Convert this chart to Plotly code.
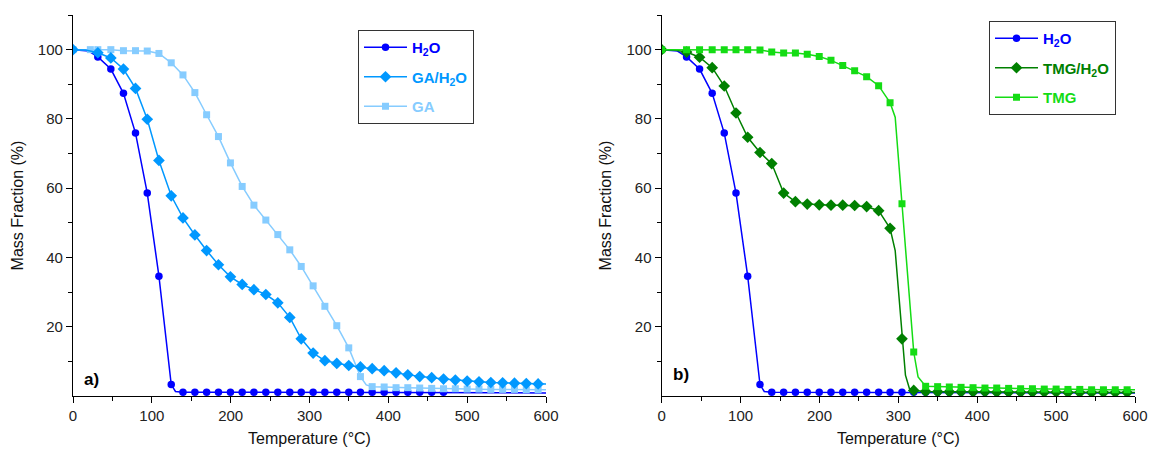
import plotly.graph_objects as go

FONT = "Liberation Sans, Arial, Helvetica, sans-serif"

# ---------------- data ----------------
TEMP = [0, 31.5, 48, 64, 79.3, 94.2, 109, 124.6, 139.5, 154.6, 169.5, 184.5, 199.7,
        214.6, 229.5, 244.6, 259.8, 275, 289.5, 304.6, 319.5, 334.6, 349.8, 364.6,
        379.5, 394.7, 409.8, 424.7, 439.8, 455, 470, 485, 500, 515, 530, 545, 560,
        575, 590]

# H2O (shown in both panels)
H2O_T = TEMP[:31]
H2O_Y = [100, 97.9, 94.4, 87.4, 75.9, 58.6, 34.6, 3.3, 1.1, 1.1, 1.1, 1.1, 1.1, 1.1,
         1.1, 1.1, 1.1, 1.1, 1.1, 1.1, 1.1, 1.1, 1.1, 1.1, 1.1, 1.1, 1.1, 1.1, 1.1,
         1.1, 1.1]
H2O_CURVE_T = [20, 130, 600]
H2O_CURVE_Y = [99.6, 1.3, 0.9]

# GA/H2O
GAH_T = TEMP
GAH_Y = [100, 99.1, 97.6, 94.4, 88.8, 79.9, 68.0, 57.8, 51.4, 46.5, 42.0, 37.9, 34.4,
         32.2, 30.7, 29.3, 26.9, 22.7, 16.5, 12.4, 10.2, 9.4, 8.8, 8.4, 7.9, 7.3, 6.7,
         6.1, 5.6, 5.3, 4.9, 4.6, 4.3, 4.1, 3.9, 3.8, 3.7, 3.6, 3.5]
GAH_CURVE_T = [16, 600]
GAH_CURVE_Y = [99.9, 3.5]

# GA
GA_T = [0, 22] + TEMP[1:]
GA_Y = [100, 100, 100, 100, 99.7, 99.7, 99.6, 98.9, 96.2, 92.7, 87.6, 81.2, 74.9, 67.3,
        60.5, 55.1, 50.8, 46.6, 42.2, 37.4, 31.8, 25.9, 20.3, 13.9, 5.6, 2.7, 2.6, 2.4,
        2.4, 2.3, 2.2, 2.1, 2.1, 2.0, 2.0, 1.9, 1.9, 1.9, 1.8, 1.8]
GA_CURVE_T = [372, 600]
GA_CURVE_Y = [3.2, 1.8]

# TMG/H2O
TMGH_T = TEMP
TMGH_Y = [100, 99.3, 97.8, 94.8, 89.5, 81.7, 74.7, 70.3, 67.1, 58.6, 56.1, 55.4, 55.2,
          55.1, 55.1, 55.0, 54.7, 53.5, 48.4, 16.5, 1.6, 1.3, 1.2, 1.2, 1.2, 1.2, 1.2,
          1.1, 1.1, 1.1, 1.1, 1.1, 1.1, 1.0, 1.0, 1.0, 1.0, 1.0, 1.0]
TMGH_CURVE_T = [16, 296, 309, 314, 600]
TMGH_CURVE_Y = [99.9, 42.0, 6.0, 2.2, 1.0]

# TMG
TMG_T = TEMP
TMG_Y = [100, 100, 100, 100, 100, 100, 100, 99.9, 99.3, 99.0, 99.0, 98.7, 98.0, 96.9,
         95.4, 93.9, 92.2, 89.6, 84.7, 55.5, 12.7, 2.8, 2.7, 2.6, 2.5, 2.4, 2.3, 2.3,
         2.2, 2.1, 2.1, 2.0, 2.0, 1.9, 1.9, 1.8, 1.8, 1.8, 1.8]
TMG_CURVE_T = [296, 300, 325, 600]
TMG_CURVE_Y = [80.5, 67.5, 5.5, 1.8]

X_TICKS = [0, 100, 200, 300, 400, 500, 600]
Y_TICKS = [20, 40, 60, 80, 100]
X_LABEL = "Temperature (°C)"
Y_LABEL = "Mass Fraction (%)"

# ---------------- styling ----------------
C_H2O = "#0000FF"
C_GAH = "#0098FF"
C_GA = "#86CCFF"
C_TMGH = "#008000"
C_TMG = "#14DC14"


def merged(t, y, et, ey):
    pts = sorted(zip(list(t) + list(et), list(y) + list(ey)))
    return [p[0] for p in pts], [p[1] for p in pts]


panels = [
    ("x", "y", "legend", [
        ("H<sub>2</sub>O", H2O_T, H2O_Y, H2O_CURVE_T, H2O_CURVE_Y, C_H2O, "circle", 7.5),
        ("GA/H<sub>2</sub>O", GAH_T, GAH_Y, GAH_CURVE_T, GAH_CURVE_Y, C_GAH, "diamond", 9),
        ("GA", GA_T, GA_Y, GA_CURVE_T, GA_CURVE_Y, C_GA, "square", 7),
    ], [0, 2, 1]),
    ("x2", "y2", "legend2", [
        ("H<sub>2</sub>O", H2O_T, H2O_Y, H2O_CURVE_T, H2O_CURVE_Y, C_H2O, "circle", 7.5),
        ("TMG/H<sub>2</sub>O", TMGH_T, TMGH_Y, TMGH_CURVE_T, TMGH_CURVE_Y, C_TMGH, "diamond", 9),
        ("TMG", TMG_T, TMG_Y, TMG_CURVE_T, TMG_CURVE_Y, C_TMG, "square", 7),
    ], [0, 1, 2]),
]

fig = go.Figure()
for xa, ya, leg, series, draw_order in panels:
    # legend entries
    for i, (name, t, y, et, ey, col, sym, ms) in enumerate(series):
        fig.add_trace(go.Scatter(
            x=[None], y=[None], mode="lines+markers", xaxis=xa, yaxis=ya,
            name=f"<span style='color:{col}'><b>{name}</b></span>",
            line=dict(color=col, width=1.5),
            marker=dict(symbol=sym, size=ms, color=col),
            legend=leg, legendgroup=f"{leg}_{i}", legendrank=i + 1, showlegend=True,
            hoverinfo="skip"))
    # data
    for i in draw_order:
        name, t, y, et, ey, col, sym, ms = series[i]
        ct, cy = merged(t, y, et, ey)
        fig.add_trace(go.Scatter(
            x=ct, y=cy, mode="lines", xaxis=xa, yaxis=ya, showlegend=False,
            line=dict(color=col, width=1.5), legend=leg, legendgroup=f"{leg}_{i}"))
        fig.add_trace(go.Scatter(
            x=t, y=y, mode="markers", xaxis=xa, yaxis=ya, showlegend=False,
            marker=dict(symbol=sym, size=ms, color=col, line=dict(width=0)),
            legend=leg, legendgroup=f"{leg}_{i}"))

# window pixel positions (page body margin removed via post_script)
W, H = 1150, 450
ML, MT = 73, 15
MR = W - 1135
MB = H - 396
PW = W - ML - MR
PH = H - MT - MB


def px_to_paper_x(px):
    return (px - ML) / PW


def px_to_paper_y(py):
    return 1 - (py - MT) / PH


axis_common = dict(
    showline=True, linecolor="black", linewidth=1.3, showgrid=False, zeroline=False,
    ticks="outside", ticklen=6, tickwidth=1.3, tickcolor="black",
    tickfont=dict(family=FONT, size=15, color="#222"),
)

xdef = dict(axis_common, range=[0, 600], tickmode="array", tickvals=X_TICKS,
            minor=dict(ticks="outside", ticklen=3.5, tickwidth=1.2, tickcolor="black",
                       tickmode="linear", tick0=50, dtick=100),
            title=dict(text=X_LABEL, font=dict(family=FONT, size=16, color="#111"), standoff=9))
ydef = dict(axis_common, range=[0, 110], tickmode="array", tickvals=Y_TICKS,
            minor=dict(ticks="outside", ticklen=3.5, tickwidth=1.2, tickcolor="black",
                       tickmode="linear", tick0=10, dtick=20),
            title=dict(text=Y_LABEL, font=dict(family=FONT, size=16, color="#111"), standoff=10))

legend_common = dict(
    xanchor="left", yanchor="top", bgcolor="white", bordercolor="#333", borderwidth=1,
    font=dict(family=FONT, size=15), tracegroupgap=7, traceorder="grouped",
    itemwidth=43, itemclick=False, itemdoubleclick=False,
)

fig.update_layout(
    width=W, height=H, plot_bgcolor="white", paper_bgcolor="white",
    margin=dict(l=ML, r=MR, t=MT, b=MB, autoexpand=False),
    showlegend=True,
    xaxis=dict(xdef, domain=[0, px_to_paper_x(546)], anchor="y"),
    yaxis=dict(ydef, domain=[0, 1], anchor="x"),
    xaxis2=dict(xdef, domain=[px_to_paper_x(661.7), 1.0], anchor="y2"),
    yaxis2=dict(ydef, domain=[0, 1], anchor="x2"),
    legend=dict(legend_common, x=px_to_paper_x(358), y=px_to_paper_y(30)),
    legend2=dict(legend_common, x=px_to_paper_x(989), y=px_to_paper_y(21)),
    annotations=[
        dict(text="<b>a)</b>", x=24, y=4.8, xref="x", yref="y", showarrow=False,
             font=dict(family=FONT, size=17, color="black")),
        dict(text="<b>b)</b>", x=24, y=6.2, xref="x2", yref="y2", showarrow=False,
             font=dict(family=FONT, size=17, color="black")),
    ],
)

fig.write_html(
    "out.html",
    config={"displayModeBar": False},
    post_script="document.body.style.margin='0';document.body.style.overflow='hidden';",
)
